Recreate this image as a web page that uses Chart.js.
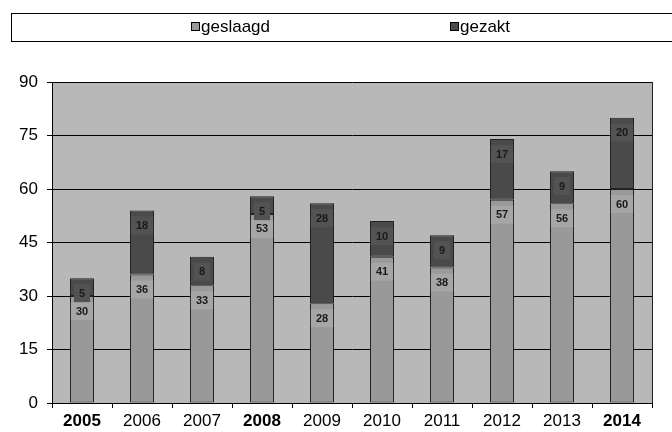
<!DOCTYPE html>
<html>
<head>
<meta charset="utf-8">
<script src="https://cdn.jsdelivr.net/npm/chart.js@4"></script>
<style>
html,body{margin:0;padding:0;background:#fff;}
#wrap{width:672px;height:432px;position:relative;}
</style>
</head>
<body>
<div id="wrap"><canvas id="c" width="672" height="432"></canvas></div>
<script>
const categories = ['2005','2006','2007','2008','2009','2010','2011','2012','2013','2014'];
const geslaagd = [30,36,33,53,28,41,38,57,56,60];
const gezakt = [5,18,8,5,28,10,9,17,9,20];
const yTicks = [0,15,30,45,60,75,90];
const boldYears = ['2005','2008','2014'];
const seriesNames = ['geslaagd','gezakt'];
const FONT = '"Liberation Sans", Arial, sans-serif';

const bgPlugin = {
  id:'bg',
  beforeDraw(chart){
    const {ctx, chartArea:a} = chart;
    ctx.save();
    ctx.fillStyle='#fff';
    ctx.fillRect(0,0,chart.width,chart.height);
    ctx.fillStyle='#b8b8b8';
    ctx.fillRect(a.left,a.top,a.right-a.left,a.bottom-a.top);
    // legend box
    ctx.strokeStyle='#000';
    ctx.lineWidth=1;
    ctx.strokeRect(11.5,13.5,720,28);
    const items=[{x:191,c:'#999999'},{x:450,c:'#4a4a4a'}];
    ctx.font='17px '+FONT;
    ctx.textBaseline='middle';
    items.forEach((it,i)=>{
      ctx.fillStyle=it.c;
      ctx.fillRect(it.x+0.5,22.5,8,8);
      ctx.strokeStyle='#000';
      ctx.strokeRect(it.x+0.5,22.5,8,8);
      ctx.fillStyle='#000';
      ctx.fillText(seriesNames[i], it.x+10, 27);
    });
    ctx.restore();
  },
  afterDraw(chart){
    const {ctx, chartArea:a} = chart;
    ctx.save();
    ctx.strokeStyle='#222';
    ctx.lineWidth=1;
    ctx.beginPath();
    ctx.moveTo(a.right+0.5,a.top);
    ctx.lineTo(a.right+0.5,a.bottom);
    ctx.stroke();
    ctx.restore();
  }
};

const labelPlugin = {
  id:'labels',
  afterDatasetsDraw(chart){
    const {ctx} = chart;
    ctx.save();
    ctx.font='bold 11px '+FONT;
    ctx.textAlign='center';
    ctx.textBaseline='middle';
    chart.data.datasets.forEach((ds,di)=>{
      const meta = chart.getDatasetMeta(di);
      meta.data.forEach((el,i)=>{
        const v = ds.data[i];
        const txt = String(v);
        const cx = el.x, cy = el.y + 15;
        const w = ctx.measureText(txt).width + 10, h = 18;
        ctx.fillStyle = di===0 ? '#a6a6a6' : '#535353';
        ctx.fillRect(cx-w/2, cy-h/2, w, h);
        ctx.fillStyle = '#1a1a1a';
        ctx.fillText(txt, cx, cy+0.5);
      });
    });
    ctx.restore();
  }
};

new Chart(document.getElementById('c'), {
  type:'bar',
  data:{
    labels:categories,
    datasets:[
      {label:seriesNames[0], data:geslaagd, backgroundColor:'#999999', borderColor:'#222', borderWidth:1, borderSkipped:false},
      {label:seriesNames[1], data:gezakt, backgroundColor:'#4a4a4a', borderColor:'#222', borderWidth:1, borderSkipped:false}
    ]
  },
  options:{
    responsive:false,
    animation:false,
    devicePixelRatio:1,
    layout:{padding:{left:0,top:82,right:20,bottom:0}},
    plugins:{legend:{display:false}, tooltip:{enabled:false}},
    datasets:{bar:{barPercentage:0.4, categoryPercentage:1.0}},
    scales:{
      x:{
        stacked:true,
        afterFit(s){ s.height = 29; },
        grid:{display:true, drawOnChartArea:false, drawTicks:true, tickLength:5, tickColor:'#000', offset:true},
        border:{display:true, color:'#000', width:1},
        ticks:{
          color:'#000', padding:3, maxRotation:0, autoSkip:false,
          font:(ctx)=>{
            const lbl = categories[ctx.index];
            return {family:FONT, size:17, weight: boldYears.includes(lbl)?'bold':'normal'};
          }
        }
      },
      y:{
        stacked:true,
        min:0, max:90,
        afterFit(s){ s.width = 52; },
        afterBuildTicks(s){ s.ticks = yTicks.map(v=>({value:v})); },
        grid:{color:'#000', lineWidth:1, drawTicks:true, tickLength:5, tickColor:'#000'},
        border:{display:true, color:'#000', width:1},
        ticks:{color:'#000', padding:9, font:{family:FONT, size:17}}
      }
    }
  },
  plugins:[bgPlugin, labelPlugin]
});
</script>
</body>
</html>
